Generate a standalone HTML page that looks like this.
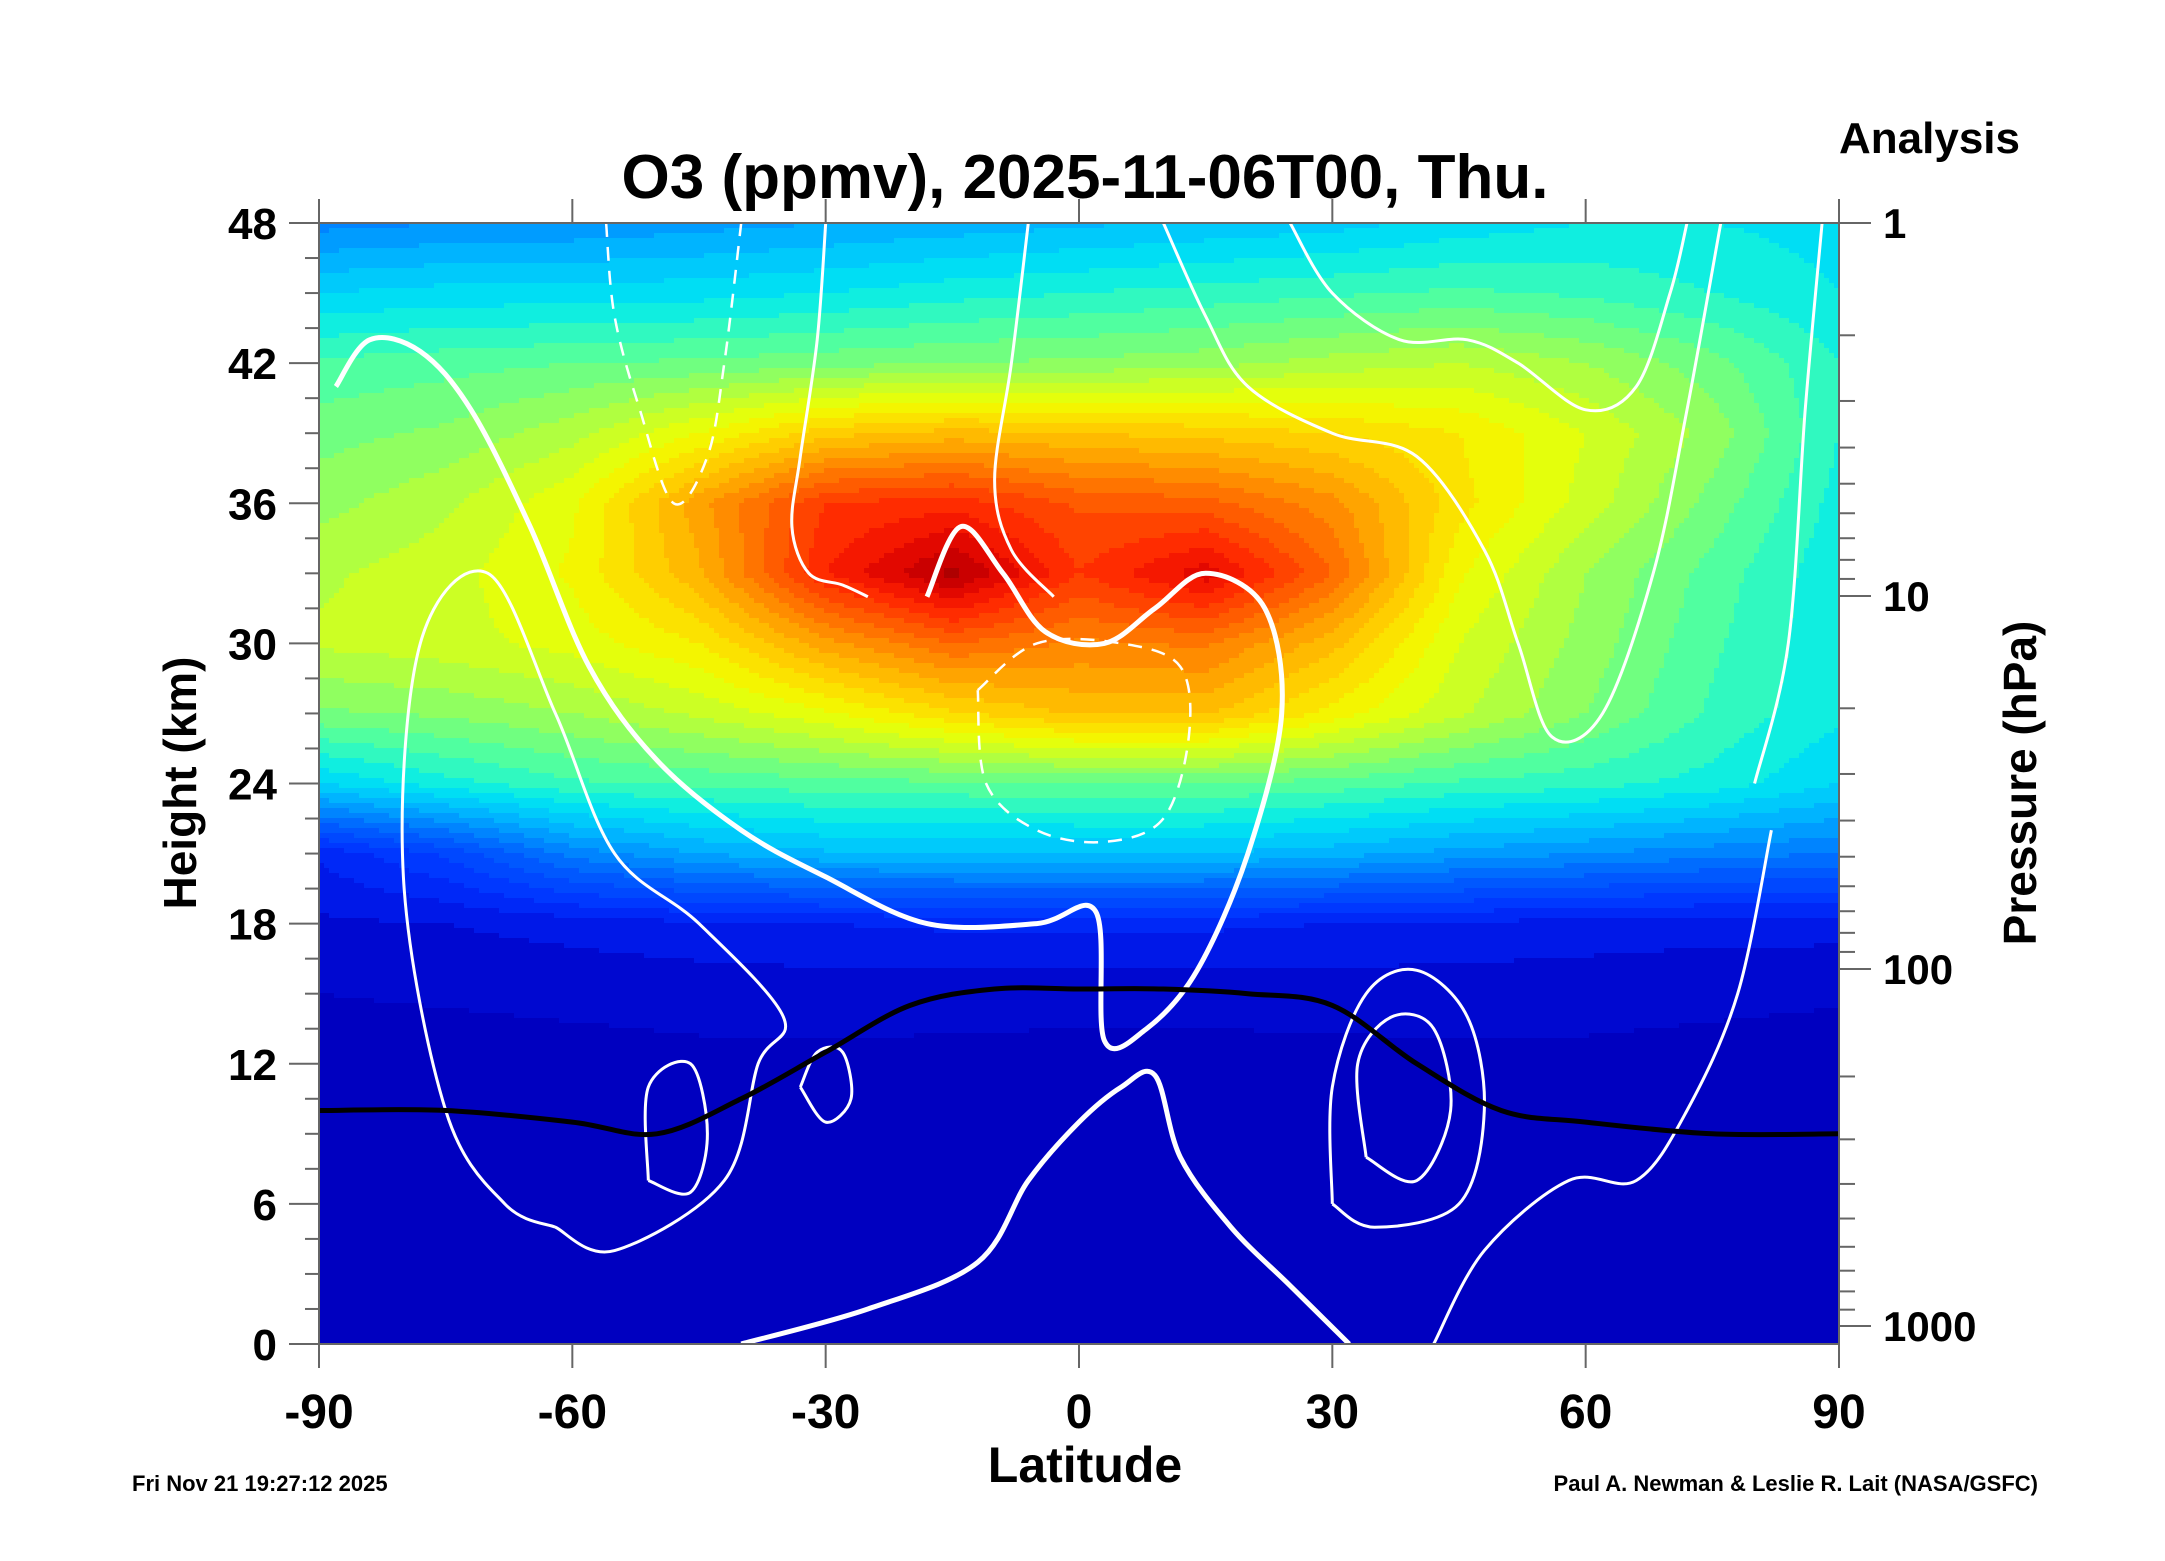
<!DOCTYPE html>
<html><head><meta charset="utf-8">
<style>
html,body{margin:0;padding:0;background:#fff;}
svg{display:block;font-family:"Liberation Sans",Arial,sans-serif;}
</style></head>
<body>
<svg id="chart" width="2165" height="1561" viewBox="0 0 2165 1561" xmlns="http://www.w3.org/2000/svg">
<defs>
<clipPath id="plotclip"><rect x="319" y="223" width="1520" height="1121"/></clipPath>
</defs>
<rect x="0" y="0" width="2165" height="1561" fill="#fff"/>
<g clip-path="url(#plotclip)">
<rect x="319" y="223" width="1520" height="1121" fill="#0000c0"/>
<g id="heat" shape-rendering="crispEdges"></g>
<g id="wind"></g>
<path id="trop" fill="none" stroke="#000" stroke-width="5"/>
</g>
<rect x="319" y="223" width="1520" height="1121" fill="none" stroke="#666" stroke-width="2"/>
<g id="axes"></g>
<text x="1085" y="198" font-size="62" font-weight="bold" text-anchor="middle">O3 (ppmv), 2025-11-06T00, Thu.</text>
<text x="2020" y="153" font-size="44" font-weight="bold" text-anchor="end">Analysis</text>
<text x="1085" y="1482" font-size="50" font-weight="bold" text-anchor="middle">Latitude</text>
<text transform="translate(196,783) rotate(-90)" font-size="46" font-weight="bold" text-anchor="middle">Height (km)</text>
<text transform="translate(2036,783) rotate(-90)" font-size="46" font-weight="bold" text-anchor="middle">Pressure (hPa)</text>
<text x="132" y="1491" font-size="22" font-weight="bold">Fri Nov 21 19:27:12 2025</text>
<text x="2038" y="1491" font-size="22" font-weight="bold" text-anchor="end">Paul A. Newman &amp; Leslie R. Lait (NASA/GSFC)</text>
</svg>
<script>
const lats=[-90,-75,-60,-45,-30,-15,0,15,30,45,60,75,90];
const heights=[48,45,42,39,36,33,30,27,24,21,18,15,12,9,6,3,0];
const o3Rows=[
[4.3,4.5,4.6,4.8,5,5.2,5.4,5.6,5.8,6.2,6.5,6.5,6.3],
[6,6.2,6.2,6.3,6.5,6.8,7,7.2,7.4,7.6,7.4,7,6.5],
[7.6,7.8,8,8.1,8.3,8.5,8.6,8.8,9.2,9.5,9,8.2,7],
[8.3,8.6,9.3,10.5,11.8,12.2,12,11.8,11.5,11,10,8.8,7],
[8.8,9.4,10.4,12.8,15,15.3,14.4,14.2,13.2,11.2,9.8,8.3,6.8],
[9.4,9.8,10.6,12.4,15.5,17.2,15,16.3,14,10.6,9,7.8,6.6],
[9.6,9.8,10.2,11,12.8,14,13.4,13.6,12.2,10,8.8,7.6,6.6],
[8.4,8.6,9,9.6,10.4,11.4,12.1,12.1,10.8,9.6,8.5,7.4,6.6],
[6,6.8,7.4,7.6,7.8,7.9,8,8,7.8,7.4,7.2,6.8,6],
[1.6,2.6,4.2,5,5.4,5.5,5.5,5.5,5.2,4.8,4.5,4.2,4],
[0.9,1,1.2,1.4,1.5,1.6,1.6,1.6,1.5,1.4,1.3,1.2,1.2],
[0.5,0.55,0.6,0.65,0.7,0.7,0.7,0.7,0.7,0.7,0.65,0.6,0.55],
[0.3,0.3,0.35,0.4,0.4,0.35,0.3,0.3,0.35,0.4,0.4,0.35,0.3],
[0.3,0.3,0.3,0.3,0.3,0.3,0.3,0.3,0.3,0.3,0.3,0.3,0.3],
[0.3,0.3,0.3,0.3,0.3,0.3,0.3,0.3,0.3,0.3,0.3,0.3,0.3],
[0.3,0.3,0.3,0.3,0.3,0.3,0.3,0.3,0.3,0.3,0.3,0.3,0.3],
[0.3,0.3,0.3,0.3,0.3,0.3,0.3,0.3,0.3,0.3,0.3,0.3,0.3]];
const tropLat=[-90,-75,-60,-50,-40,-30,-20,-10,0,10,20,30,40,50,60,75,90];
const tropHeight=[10,10,9.5,9,10.5,12.5,14.5,15.2,15.2,15.2,15,14.5,12,10,9.5,9,9];
const xTicks=[-90,-60,-30,0,30,60,90];
const yTicks=[0,6,12,18,24,30,36,42,48];
const pTicks=[1,10,100,1000];
const pTickY=[223,596,969,1326];
const cStops=[0.5,1,2,3.5,4.5,5.5,6.5,7.5,8.5,9.5,10.5,11.5,12.5,13.5,14.5,15.5,16.5,17.5];
const cStopColors=["#0000c0","#0010e0","#0030ff","#0060ff","#0090ff","#00c0ff","#00e8f0","#40ffb0","#80ff70","#c0ff30","#f0ff00","#ffd800","#ffb000","#ff8000","#ff5000","#ff2000","#d80000","#a00000"];
const windLines=[
{v:"0",w:5,d:"",pts:[[-88,41],[-84,43],[-78,42.5],[-72,40],[-65,35],[-58,29],[-50,25],[-40,22],[-30,20],[-18,18],[-5,18],[2,18.5],[3,13],[8,13.5],[14,16],[20,21],[24,27],[22,31.5],[15,33],[9,31.5],[3,30],[-4,30.5],[-9,33],[-14,35],[-18,32]]},
{v:"0",w:3,d:"",pts:[[-30,48],[-31,43],[-33,38],[-34,35],[-32,33],[-28,32.5],[-25,32]]},
{v:"0",w:5,d:"",pts:[[-40,0],[-25,1.5],[-12,3.5],[-6,7],[0,9.5],[5,11],[9,11.5],[12,8],[18,5],[25,2.5],[32,0]]},
{v:"20",w:3,d:"",pts:[[30,6],[35,5],[45,6],[48,10],[46,14],[40,16],[34,15],[30,11],[30,6]]},
{v:"20",w:3,d:"",pts:[[34,8],[40,7],[44,10],[42,13.5],[37,14],[33,12],[34,8]]},
{v:"20",w:3,d:"",pts:[[-33,11],[-30,9.5],[-27,10.5],[-28,12.5],[-31,12.5],[-33,11]]},
{v:"20",w:3,d:"",pts:[[-51,7],[-46,6.5],[-44,9],[-46,12],[-51,11],[-51,7]]},
{v:"20",w:3,d:"",pts:[[-62,5],[-55,4],[-42,7],[-38,12],[-35,14],[-45,18],[-55,21],[-62,27],[-70,33],[-78,30],[-80,20],[-75,10],[-68,6],[-62,5]]},
{v:"-20",w:2.5,d:"14 10",pts:[[-12,28],[-5,30],[5,30],[12,29],[13,26],[10,22.5],[3,21.5],[-5,22],[-11,24],[-12,28]]},
{v:"20",w:3,d:"",pts:[[10,48],[15,44],[20,41],[30,39],[40,38],[48,34],[52,30],[56,26],[62,27],[68,33],[72,40],[76,48]]},
{v:"40",w:3,d:"",pts:[[25,48],[30,45],[38,43],[46,43],[52,42],[60,40],[66,41],[70,45],[72,48]]},
{v:"0",w:3,d:"",pts:[[-6,48],[-8,42],[-10,37],[-8,34],[-3,32]]},
{v:"0",w:3,d:"",pts:[[80,24],[84,30],[86,40],[88,48]]},
{v:"0",w:3,d:"",pts:[[42,0],[48,4],[58,7],[66,7],[72,10],[78,15],[82,22]]},
{v:"-0",w:2.5,d:"14 10",pts:[[-56,48],[-55,44],[-52,40],[-48,36],[-44,38],[-42,42],[-40,48]]}
];
const X0=319,X1=1839,Y0=223,Y1=1344;
function xs(lat){return X0+(lat+90)/180*(X1-X0);}
function ys(h){return Y1-h/48*(Y1-Y0);}
function hex(c){return [parseInt(c.slice(1,3),16),parseInt(c.slice(3,5),16),parseInt(c.slice(5,7),16)];}
function colorFor(v){
  v=Math.floor(v*2)/2+0.25;
  if(v<=cStops[0])return cStopColors[0];
  for(let i=0;i<cStops.length-1;i++){
    if(v<=cStops[i+1]){const t=(v-cStops[i])/(cStops[i+1]-cStops[i]);const a=hex(cStopColors[i]),b=hex(cStopColors[i+1]);
      return 'rgb('+a.map((x,k)=>Math.round(x+(b[k]-x)*t)).join(',')+')';}
  }
  return cStopColors[cStops.length-1];
}
const NS="http://www.w3.org/2000/svg";
const heat=document.getElementById('heat');
function field(lat,h){
  let i=Math.min(lats.length-2,Math.max(0,Math.floor((lat+90)/15)));
  let fi=Math.min(1,Math.max(0,(lat-lats[i])/15));
  let j=Math.min(heights.length-2,Math.max(0,Math.floor((48-h)/3)));
  let fj=Math.min(1,Math.max(0,(heights[j]-h)/3));
  const a=o3Rows[j][i],b=o3Rows[j][i+1],c=o3Rows[j+1][i],d=o3Rows[j+1][i+1];
  return a*(1-fi)*(1-fj)+b*fi*(1-fj)+c*(1-fi)*fj+d*fi*fj;
}
function addRun(x0,x1,y,h,col){
  if(!col||col===cStopColors[0]||x1<=x0)return;
  const r=document.createElementNS(NS,'rect');
  r.setAttribute('x',x0);r.setAttribute('y',y);r.setAttribute('width',x1-x0);r.setAttribute('height',h);
  r.setAttribute('fill',col);
  
  
  heat.appendChild(r);
}
const stepX=5,stepY=5;
for(let y=Y0;y<Y1;y+=stepY){
  const h=48-(y+stepY/2-Y0)/(Y1-Y0)*48;
  let runStart=X0,runColor=null;
  for(let x=X0;x<X1;x+=stepX){
    const lat=Math.min(90,(x+stepX/2-X0)/(X1-X0)*180-90);
    const col=colorFor(field(lat,h));
    if(col!==runColor){addRun(runStart,x,y,stepY,runColor);runStart=x;runColor=col;}
  }
  addRun(runStart,X1,y,stepY,runColor);
}
function smoothPath(pts){
  const p=pts.map(a=>[xs(a[0]),ys(a[1])]);
  let d='M'+p[0][0].toFixed(1)+','+p[0][1].toFixed(1);
  for(let i=0;i<p.length-1;i++){
    const p0=p[i-1]||p[i],p1=p[i],p2=p[i+1],p3=p[i+2]||p2;
    const c1=[p1[0]+(p2[0]-p0[0])/6,p1[1]+(p2[1]-p0[1])/6];
    const c2=[p2[0]-(p3[0]-p1[0])/6,p2[1]-(p3[1]-p1[1])/6];
    d+=' C'+c1[0].toFixed(1)+','+c1[1].toFixed(1)+' '+c2[0].toFixed(1)+','+c2[1].toFixed(1)+' '+p2[0].toFixed(1)+','+p2[1].toFixed(1);
  }
  return d;
}
const wind=document.getElementById('wind');
windLines.forEach(l=>{
  const p=document.createElementNS(NS,'path');
  p.setAttribute('d',smoothPath(l.pts));
  p.setAttribute('fill','none');p.setAttribute('stroke','#fff');p.setAttribute('stroke-width',l.w);
  if(l.d)p.setAttribute('stroke-dasharray',l.d);
  
  
  wind.appendChild(p);
});
document.getElementById('trop').setAttribute('d',smoothPath(tropLat.map((a,i)=>[a,tropHeight[i]])));
const axes=document.getElementById('axes');
function line(x1,y1,x2,y2,name){const l=document.createElementNS(NS,'line');l.setAttribute('x1',x1);l.setAttribute('y1',y1);l.setAttribute('x2',x2);l.setAttribute('y2',y2);l.setAttribute('stroke','#666');l.setAttribute('stroke-width',2);


axes.appendChild(l);}
function text(x,y,s,anchor,size,name){const t=document.createElementNS(NS,'text');t.setAttribute('x',x);t.setAttribute('y',y);t.setAttribute('text-anchor',anchor);t.setAttribute('font-size',size);t.setAttribute('font-weight','bold');t.textContent=s;


axes.appendChild(t);}
xTicks.forEach(v=>{const x=xs(v);line(x,Y0,x,Y0-24,'x-tick-top');line(x,Y1,x,Y1+24,'x-tick');text(x,1428,String(v),'middle',48,'x-tick-label');});
yTicks.forEach(v=>{const y=ys(v);line(X0,y,X0-30,y,'y-tick');text(277,y+16,String(v),'end',44,'y-tick-label');});
for(let h=1.5;h<48;h+=1.5){if(h%6!==0){const y=ys(h);line(X0,y,X0-14,y,'y-minor-tick');}}
function py(p){const lg=Math.log10(p);const k=Math.min(2,Math.floor(lg));const f=lg-k;return pTickY[k]+f*(pTickY[k+1]-pTickY[k]);}
pTicks.forEach((p,i)=>{line(X1,pTickY[i],X1+32,pTickY[i],'pressure-tick');text(1883,pTickY[i]+15,String(p),'start',42,'pressure-tick-label');});
for(let k=0;k<3;k++){for(let m=2;m<10;m++){const y=py(m*Math.pow(10,k));line(X1,y,X1+16,y,'pressure-minor-tick');}}
</script>
</body></html>
